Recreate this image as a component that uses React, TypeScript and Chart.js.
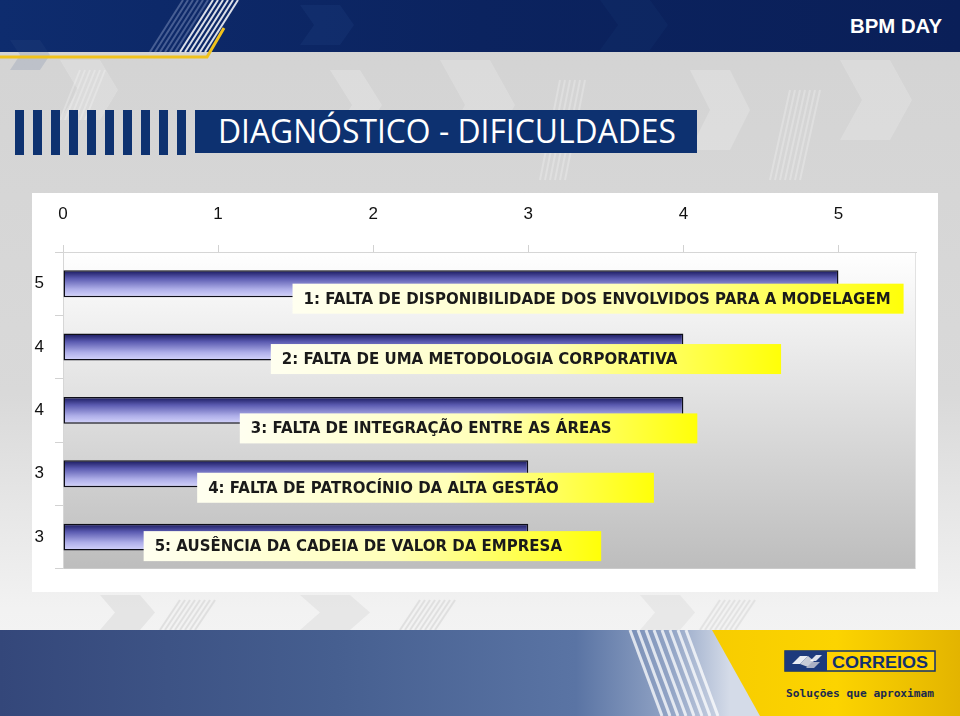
import React, { useEffect, useRef } from "react";
import { Chart, registerables } from "chart.js";

Chart.register(...registerables);

// ---------- data ----------
const categories = ["5", "4", "4", "3", "3"];
const scores = [5, 4, 4, 3, 3];
const difficulties = [
  "1: FALTA DE DISPONIBILIDADE DOS ENVOLVIDOS PARA A MODELAGEM",
  "2: FALTA DE UMA METODOLOGIA CORPORATIVA",
  "3: FALTA DE INTEGRAÇÃO ENTRE AS ÁREAS",
  "4: FALTA DE PATROCÍNIO DA ALTA GESTÃO",
  "5: AUSÊNCIA DA CADEIA DE VALOR DA EMPRESA",
];
const xTickValues = [0, 1, 2, 3, 4, 5];
const xMin = 0;
const xMax = 5.5;

// ---------- callout layout (in value-axis units) ----------
const calloutStart = [1.48, 1.34, 1.14, 0.865, 0.52];
const calloutEnd = [5.42, 4.63, 4.09, 3.81, 3.47];
const calloutShift = [0, -3, 3, -1, -6];

const BAR_FRACTION = 0.425;

function barFill(ctx: any) {
  const chart = ctx.chart;
  const y = chart.scales && chart.scales.y;
  if (!chart.chartArea || !y) return "#6868b8";
  const c = y.getPixelForValue(ctx.dataIndex);
  const band = Math.abs(y.getPixelForValue(1) - y.getPixelForValue(0));
  const h = (band * BAR_FRACTION) / 2;
  const g = chart.ctx.createLinearGradient(0, c - h, 0, c + h);
  g.addColorStop(0, "#16165a");
  g.addColorStop(0.3, "#5a5ab0");
  g.addColorStop(0.7, "#aeaee8");
  g.addColorStop(1, "#d6d6fc");
  return g;
}

const plotBackground = {
  id: "plotBackground",
  beforeDraw(chart: any) {
    const { ctx, chartArea: a } = chart;
    if (!a) return;
    ctx.save();
    const g = ctx.createLinearGradient(0, a.top, 0, a.bottom);
    g.addColorStop(0, "#ffffff");
    g.addColorStop(1, "#bdbdbd");
    ctx.fillStyle = g;
    ctx.fillRect(a.left, a.top, a.right - a.left, a.bottom - a.top);
    ctx.strokeStyle = "#e2e2e2";
    ctx.lineWidth = 1;
    ctx.beginPath();
    ctx.moveTo(a.right - 0.5, a.top);
    ctx.lineTo(a.right - 0.5, a.bottom);
    ctx.stroke();
    ctx.restore();
  },
};

const callouts = {
  id: "callouts",
  afterDatasetsDraw(chart: any) {
    const { ctx, scales } = chart;
    const x = scales.x;
    const y = scales.y;
    ctx.save();
    ctx.font = 'bold 15px "DejaVu Sans", Verdana, sans-serif';
    ctx.textBaseline = "middle";
    ctx.textAlign = "left";
    difficulties.forEach((text, i) => {
      const left = x.getPixelForValue(calloutStart[i]);
      const right = x.getPixelForValue(calloutEnd[i]);
      const top = y.getPixelForValue(i) + calloutShift[i];
      const h = 30;
      const g = ctx.createLinearGradient(left, 0, right, 0);
      g.addColorStop(0, "#fffff0");
      g.addColorStop(0.55, "#ffffb8");
      g.addColorStop(1, "#ffff08");
      ctx.fillStyle = g;
      ctx.fillRect(left, top, right - left, h);
      ctx.fillStyle = "#1a1a1a";
      ctx.fillText(text, left + 11, top + h / 2 + 1);
    });
    ctx.restore();
  },
};

function ChevronShape({ x, y, w, h, d, fill, opacity }: any) {
  const pts = [
    [x, y],
    [x + w, y],
    [x + w + d, y + h / 2],
    [x + w, y + h],
    [x, y + h],
    [x + d, y + h / 2],
  ]
    .map((p) => p.join(","))
    .join(" ");
  return <polygon points={pts} fill={fill} opacity={opacity} />;
}

function Stripes({ x0, y0, x1, y1, n, gap, color, width, opacity }: any) {
  const lines = [];
  for (let i = 0; i < n; i++) {
    lines.push(
      <line
        key={i}
        x1={x0 + i * gap}
        y1={y0}
        x2={x1 + i * gap}
        y2={y1}
        stroke={color}
        strokeWidth={width}
        opacity={opacity}
      />
    );
  }
  return <g>{lines}</g>;
}

function Background() {
  const bars = [];
  for (let i = 0; i < 10; i++) {
    bars.push(<rect key={i} x={15 + i * 18} y={110} width={9} height={45} fill="#0e3270" />);
  }
  return (
    <svg width={960} height={716} style={{ position: "absolute", left: 0, top: 0 }}>
      <defs>
        <linearGradient id="bgGrad" x1="0" y1="0" x2="0" y2="1">
          <stop offset="0" stopColor="#d3d3d3" />
          <stop offset="0.55" stopColor="#d9d9d9" />
          <stop offset="0.85" stopColor="#f2f2f2" />
          <stop offset="1" stopColor="#f6f6f6" />
        </linearGradient>
        <linearGradient id="headGrad" x1="0" y1="0" x2="1" y2="0">
          <stop offset="0" stopColor="#0e2c6e" />
          <stop offset="0.5" stopColor="#0b235f" />
          <stop offset="1" stopColor="#0a1f58" />
        </linearGradient>
        <linearGradient id="footBlue" x1="0" y1="0" x2="1" y2="0">
          <stop offset="0" stopColor="#34477a" />
          <stop offset="0.35" stopColor="#465f90" />
          <stop offset="0.6" stopColor="#5a74a4" />
          <stop offset="0.7" stopColor="#93a5c6" />
          <stop offset="0.76" stopColor="#d4dbe8" />
        </linearGradient>
        <linearGradient id="footYellow" x1="0" y1="0" x2="1" y2="0">
          <stop offset="0" stopColor="#f7cc00" />
          <stop offset="0.5" stopColor="#fcd400" />
          <stop offset="1" stopColor="#e3b400" />
        </linearGradient>
      </defs>
      <rect x={0} y={0} width={960} height={716} fill="url(#bgGrad)" />
      {/* faint background chevrons */}
      <ChevronShape x={60} y={60} w={40} h={60} d={18} fill="#ffffff" opacity={0.18} />
      <ChevronShape x={330} y={70} w={30} h={70} d={22} fill="#ffffff" opacity={0.2} />
      <ChevronShape x={440} y={60} w={50} h={90} d={25} fill="#ffffff" opacity={0.18} />
      <ChevronShape x={690} y={70} w={40} h={80} d={20} fill="#ffffff" opacity={0.2} />
      <ChevronShape x={840} y={60} w={50} h={80} d={22} fill="#ffffff" opacity={0.18} />
      <Stripes x0={60} y0={120} x1={80} y1={70} n={6} gap={5} color="#ffffff" width={2} opacity={0.25} />
      <Stripes x0={540} y0={180} x1={560} y1={80} n={6} gap={5} color="#ffffff" width={2} opacity={0.25} />
      <Stripes x0={770} y0={180} x1={790} y1={90} n={7} gap={5} color="#ffffff" width={2} opacity={0.25} />
      <ChevronShape x={100} y={595} w={40} h={35} d={15} fill="#d8d8d8" opacity={0.5} />
      <ChevronShape x={300} y={595} w={50} h={35} d={20} fill="#dcdcdc" opacity={0.5} />
      <ChevronShape x={640} y={595} w={40} h={35} d={15} fill="#dcdcdc" opacity={0.45} />
      <Stripes x0={160} y0={630} x1={180} y1={600} n={8} gap={5} color="#d4d4d4" width={2} opacity={0.6} />
      <Stripes x0={400} y0={630} x1={420} y1={600} n={8} gap={5} color="#d4d4d4" width={2} opacity={0.6} />
      <Stripes x0={700} y0={630} x1={720} y1={600} n={8} gap={5} color="#d4d4d4" width={2} opacity={0.5} />

      {/* header */}
      <rect x={0} y={0} width={960} height={52} fill="url(#headGrad)" />
      <ChevronShape x={10} y={40} w={30} h={30} d={10} fill="#3a5590" opacity={0.15} />
      <ChevronShape x={300} y={5} w={40} h={40} d={14} fill="#2a4a8a" opacity={0.2} />
      <ChevronShape x={600} y={0} w={50} h={50} d={18} fill="#1a3a7a" opacity={0.2} />
      <Stripes x0={150} y0={52} x1={183} y1={0} n={6} gap={5} color="#8fa0c8" width={2} opacity={0.45} />
      <Stripes x0={180} y0={52} x1={213} y1={0} n={6} gap={5} color="#ffffff" width={2} opacity={0.85} />
      <polyline points="0,57 207,57 224,28" fill="none" stroke="#f0c21c" strokeWidth={3} />
      <text
        x={850}
        y={33}
        fill="#ffffff"
        fontFamily='"Liberation Sans Narrow", "Liberation Sans", Arial, sans-serif'
        fontWeight="bold"
        fontSize={21}
        textLength={92}
        lengthAdjust="spacingAndGlyphs"
      >
        BPM DAY
      </text>

      {/* title */}
      {bars}
      <rect x={195} y={110} width={502} height={43} fill="#0d3170" />
      <text
        x={218}
        y={143}
        fill="#ffffff"
        fontFamily='"Open Sans", "Liberation Sans", sans-serif'
        fontSize={32}
        textLength={458}
        lengthAdjust="spacingAndGlyphs"
      >
        DIAGNÓSTICO - DIFICULDADES
      </text>

      {/* footer */}
      <rect x={0} y={630} width={960} height={86} fill="url(#footBlue)" />
      <Stripes x0={662} y0={716} x1={630} y1={630} n={8} gap={8} color="#ffffff" width={3} opacity={0.75} />
      <polygon points="712,630 960,630 960,716 760,716" fill="url(#footYellow)" />
      {/* logo */}
      <rect x={785} y={651} width={150} height={20} fill="#ffd200" stroke="#12306e" strokeWidth={1.5} />
      <rect x={785} y={651} width={42} height={20} fill="#1d3a7c" />
      <polygon points="792,664 800,656 808,656 800,664" fill="#ffffff" opacity={0.9} />
      <polygon points="800,664 808,656 814,661 808,667" fill="#c8ccd8" />
      <polygon points="810,661 816,655 822,655 816,661" fill="#ffffff" opacity={0.85} />
      <polygon points="806,668 812,662 820,662 814,668" fill="#aab0c4" />
      <text
        x={832}
        y={668}
        fill="#12306e"
        fontFamily='"Liberation Sans", Arial, sans-serif'
        fontWeight="bold"
        fontSize={16}
        textLength={96}
        lengthAdjust="spacingAndGlyphs"
      >
        CORREIOS
      </text>
      <text
        x={786}
        y={697}
        fill="#1b2a4e"
        fontFamily='"DejaVu Sans Mono", monospace'
        fontWeight="bold"
        fontSize={10}
        textLength={148}
        lengthAdjust="spacingAndGlyphs"
      >
        Soluções que aproximam
      </text>
    </svg>
  );
}

export default function App() {
  const canvasRef = useRef<HTMLCanvasElement | null>(null);

  useEffect(() => {
    const canvas = canvasRef.current;
    if (!canvas) return;
    const tickFont = { family: '"Liberation Sans", Arial, sans-serif', size: 17 };
    const chart = new Chart(canvas, {
      type: "bar",
      data: {
        labels: categories,
        datasets: [
          {
            data: scores,
            backgroundColor: barFill as any,
            borderColor: "#0e0e18",
            borderWidth: 1.5,
            borderSkipped: false as any,
            barPercentage: BAR_FRACTION,
            categoryPercentage: 1,
          },
        ],
      },
      options: {
        indexAxis: "y",
        responsive: false,
        maintainAspectRatio: false,
        animation: false,
        layout: { padding: { left: 0, top: 0, right: 22, bottom: 20 } },
        plugins: { legend: { display: false }, tooltip: { enabled: false } },
        scales: {
          x: {
            position: "top",
            min: xMin,
            max: xMax,
            afterBuildTicks: (s: any) => {
              s.ticks = xTickValues.map((v) => ({ value: v }));
            },
            afterFit: (s: any) => {
              s.height = 59;
            },
            ticks: { font: tickFont, color: "#111111", padding: 20, maxRotation: 0 },
            grid: { drawOnChartArea: false, tickLength: 7, color: "#d2d2d2" },
            border: { color: "#d6d6d6" },
          },
          y: {
            afterFit: (s: any) => {
              s.width = 31;
            },
            ticks: { font: tickFont, color: "#111111", padding: 11 },
            grid: { drawOnChartArea: false, tickLength: 8, color: "#d2d2d2", offset: true },
            border: { color: "#d6d6d6" },
          },
        },
      },
      plugins: [plotBackground, callouts],
    });
    return () => chart.destroy();
  }, []);

  return (
    <div style={{ position: "absolute", left: 0, top: 0, width: 960, height: 716, overflow: "hidden" }}>
      <Background />
      <div
        style={{
          position: "absolute",
          left: 32,
          top: 193,
          width: 906,
          height: 399,
          background: "#ffffff",
        }}
      >
        <canvas ref={canvasRef} width={906} height={397} style={{ display: "block" }} />
      </div>
    </div>
  );
}
